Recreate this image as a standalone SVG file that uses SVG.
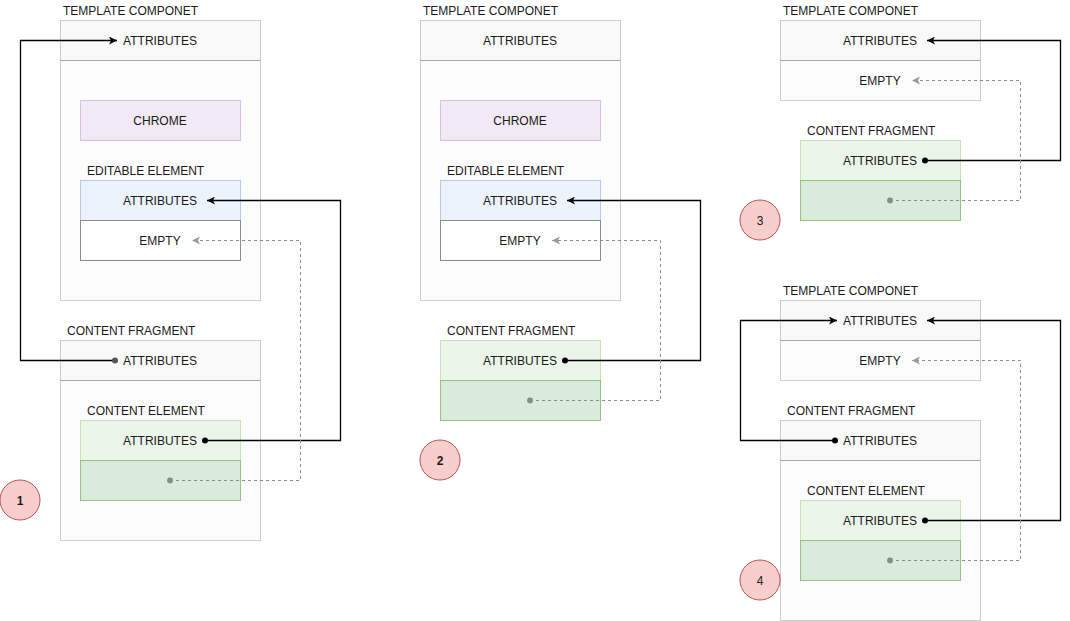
<svg xmlns="http://www.w3.org/2000/svg" width="1070" height="621" viewBox="0 0 1070 621">
<defs>
<marker id="ab" viewBox="0 0 10 10" refX="10" refY="5" markerWidth="8" markerHeight="8" markerUnits="userSpaceOnUse" orient="auto"><path d="M0,0 L10,5 L0,10 L2.5,5 Z" fill="#000"/></marker>
<marker id="ag" viewBox="0 0 10 10" refX="10" refY="5" markerWidth="8" markerHeight="8" markerUnits="userSpaceOnUse" orient="auto"><path d="M0,0 L10,5 L0,10 L2.5,5 Z" fill="#999"/></marker>
<style>
text{font-family:"Liberation Sans",Arial,sans-serif;font-size:12px;fill:#1a1a1a}
.c{text-anchor:middle;dominant-baseline:central;transform:translate(0px,1px)}
.outer{fill:#fcfcfc;stroke:#cccccc;stroke-width:1}
.hdr{fill:#f9f9f9;stroke:#cccccc;stroke-width:1}
.div{stroke:#a6a6a6;stroke-width:1}
.chrome{fill:#f1eaf4;stroke:#d6bfe2;stroke-width:1}
.blue{fill:#ecf3fc;stroke:#b7cbe6;stroke-width:1}
.empty{fill:#ffffff;stroke:#8c8c8c;stroke-width:1}
.g1{fill:#ecf5ea;stroke:#c5e2b8;stroke-width:1}
.g2{fill:#dbebdb;stroke:#93c47d;stroke-width:1}
.num{fill:#f8cecc;stroke:#b85450;stroke-width:1}
.lk{fill:none;stroke:#000;stroke-width:1.3}
.lg{fill:none;stroke:#8c8c8c;stroke-width:1;stroke-dasharray:3 3}
.db{fill:#000}
.dg{fill:#8c8c8c}
</style>
</defs>

<!-- Panel 1 -->
<g id="p1-template">
<text x="63" y="15">TEMPLATE COMPONET</text>
<rect class="outer" x="60.5" y="20.5" width="200" height="280"/>
<rect class="hdr" x="60.5" y="20.5" width="200" height="40"/>
<line class="div" x1="60.5" y1="60.5" x2="260.5" y2="60.5"/>
<text class="c" x="160" y="40">ATTRIBUTES</text>
</g>
<g id="p1-chrome">
<rect class="chrome" x="80.5" y="100.5" width="160" height="40"/>
<text class="c" x="160" y="120">CHROME</text>
</g>
<g id="p1-editable">
<text x="87" y="175">EDITABLE ELEMENT</text>
<rect class="blue" x="80.5" y="180.5" width="160" height="40"/>
<text class="c" x="160" y="200">ATTRIBUTES</text>
<rect class="empty" x="80.5" y="220.5" width="160" height="40"/>
<text class="c" x="160" y="240">EMPTY</text>
</g>
<g id="p1-fragment">
<text x="67" y="335">CONTENT FRAGMENT</text>
<rect class="outer" x="60.5" y="340.5" width="200" height="200"/>
<rect class="hdr" x="60.5" y="340.5" width="200" height="40"/>
<line class="div" x1="60.5" y1="380.5" x2="260.5" y2="380.5"/>
<text class="c" x="160" y="360">ATTRIBUTES</text>
</g>
<g id="p1-content-element">
<text x="87" y="415">CONTENT ELEMENT</text>
<rect class="g1" x="80.5" y="420.5" width="160" height="40"/>
<text class="c" x="160" y="440">ATTRIBUTES</text>
<rect class="g2" x="80.5" y="460.5" width="160" height="40"/>
</g>
<g id="p1-num">
<circle class="num" cx="20" cy="500" r="20"/>
<text class="c" x="20" y="500" font-weight="bold">1</text>
</g>

<!-- Panel 2 -->
<g id="p2-template">
<text x="423" y="15">TEMPLATE COMPONET</text>
<rect class="outer" x="420.5" y="20.5" width="200" height="280"/>
<rect class="hdr" x="420.5" y="20.5" width="200" height="40"/>
<line class="div" x1="420.5" y1="60.5" x2="620.5" y2="60.5"/>
<text class="c" x="520" y="40">ATTRIBUTES</text>
</g>
<g id="p2-chrome">
<rect class="chrome" x="440.5" y="100.5" width="160" height="40"/>
<text class="c" x="520" y="120">CHROME</text>
</g>
<g id="p2-editable">
<text x="447" y="175">EDITABLE ELEMENT</text>
<rect class="blue" x="440.5" y="180.5" width="160" height="40"/>
<text class="c" x="520" y="200">ATTRIBUTES</text>
<rect class="empty" x="440.5" y="220.5" width="160" height="40"/>
<text class="c" x="520" y="240">EMPTY</text>
</g>
<g id="p2-fragment">
<text x="447" y="335">CONTENT FRAGMENT</text>
<rect class="g1" x="440.5" y="340.5" width="160" height="40"/>
<text class="c" x="520" y="360">ATTRIBUTES</text>
<rect class="g2" x="440.5" y="380.5" width="160" height="40"/>
</g>
<g id="p2-num">
<circle class="num" cx="440" cy="460" r="20"/>
<text class="c" x="440" y="460" font-weight="bold">2</text>
</g>

<!-- Panel 3 -->
<g id="p3-template">
<text x="783" y="15">TEMPLATE COMPONET</text>
<rect class="outer" x="780.5" y="20.5" width="200" height="80"/>
<rect class="hdr" x="780.5" y="20.5" width="200" height="40"/>
<line class="div" x1="780.5" y1="60.5" x2="980.5" y2="60.5"/>
<text class="c" x="880" y="40">ATTRIBUTES</text>
<text class="c" x="880" y="80">EMPTY</text>
</g>
<g id="p3-fragment">
<text x="807" y="135">CONTENT FRAGMENT</text>
<rect class="g1" x="800.5" y="140.5" width="160" height="40"/>
<text class="c" x="880" y="160">ATTRIBUTES</text>
<rect class="g2" x="800.5" y="180.5" width="160" height="40"/>
</g>
<g id="p3-num">
<circle class="num" cx="760" cy="220" r="20"/>
<text class="c" x="760" y="220">3</text>
</g>

<!-- Panel 4 -->
<g id="p4-template">
<text x="783" y="295">TEMPLATE COMPONET</text>
<rect class="outer" x="780.5" y="300.5" width="200" height="80"/>
<rect class="hdr" x="780.5" y="300.5" width="200" height="40"/>
<line class="div" x1="780.5" y1="340.5" x2="980.5" y2="340.5"/>
<text class="c" x="880" y="320">ATTRIBUTES</text>
<text class="c" x="880" y="360">EMPTY</text>
</g>
<g id="p4-fragment">
<text x="787" y="415">CONTENT FRAGMENT</text>
<rect class="outer" x="780.5" y="420.5" width="200" height="200"/>
<rect class="hdr" x="780.5" y="420.5" width="200" height="40"/>
<line class="div" x1="780.5" y1="460.5" x2="980.5" y2="460.5"/>
<text class="c" x="880" y="440">ATTRIBUTES</text>
</g>
<g id="p4-content-element">
<text x="807" y="495">CONTENT ELEMENT</text>
<rect class="g1" x="800.5" y="500.5" width="160" height="40"/>
<text class="c" x="880" y="520">ATTRIBUTES</text>
<rect class="g2" x="800.5" y="540.5" width="160" height="40"/>
</g>
<g id="p4-num">
<circle class="num" cx="760" cy="580" r="20"/>
<text class="c" x="760" y="580">4</text>
</g>

<!-- Connectors -->
<g id="connectors">
<path class="lk" d="M115,360.5 H20.5 V40.5 H117" marker-end="url(#ab)"/>
<circle cx="115" cy="360.5" r="3" fill="#555"/>
<path class="lk" d="M205,440.5 H340.5 V200.5 H207" marker-end="url(#ab)"/>
<circle class="db" cx="205" cy="440.5" r="3"/>
<path class="lg" d="M170,480.5 H300.5 V240.5 H192" marker-end="url(#ag)"/>
<circle class="dg" cx="170" cy="480.5" r="3"/>
<path class="lk" d="M565,360.5 H700.5 V200.5 H567" marker-end="url(#ab)"/>
<circle class="db" cx="565" cy="360.5" r="3"/>
<path class="lg" d="M530,400.5 H660.5 V240.5 H552" marker-end="url(#ag)"/>
<circle class="dg" cx="530" cy="400.5" r="3"/>
<path class="lk" d="M925,160.5 H1060.5 V40.5 H927" marker-end="url(#ab)"/>
<circle class="db" cx="925" cy="160.5" r="3"/>
<path class="lg" d="M890,200.5 H1020.5 V80.5 H912" marker-end="url(#ag)"/>
<circle class="dg" cx="890" cy="200.5" r="3"/>
<path class="lk" d="M835,440.5 H740.5 V320.5 H837" marker-end="url(#ab)"/>
<circle class="db" cx="835" cy="440.5" r="3"/>
<path class="lk" d="M925,520.5 H1060.5 V320.5 H927" marker-end="url(#ab)"/>
<circle class="db" cx="925" cy="520.5" r="3"/>
<path class="lg" d="M890,560.5 H1020.5 V360.5 H912" marker-end="url(#ag)"/>
<circle class="dg" cx="890" cy="560.5" r="3"/>
</g>
</svg>
